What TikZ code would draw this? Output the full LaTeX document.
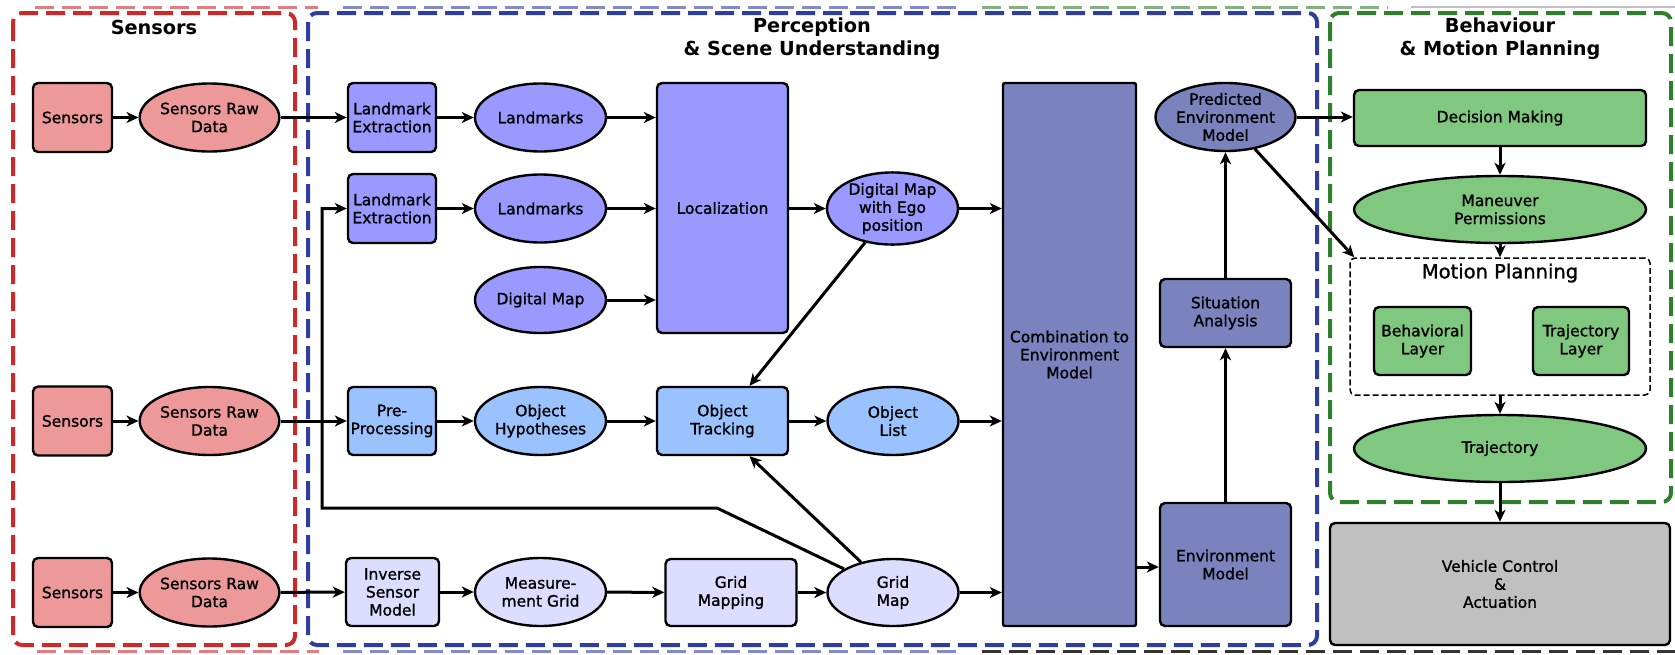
\documentclass[tikz,border=0pt]{standalone}
\usepackage{fontspec}
\setmainfont{DejaVu Sans}
\newfontfamily\nodefam[FakeBold=1.2]{DejaVu Sans}
\usetikzlibrary{shapes.geometric,arrows.meta}
\definecolor{sensfill}{HTML}{EE9999}
\definecolor{lmfill}{HTML}{9999FF}
\definecolor{objfill}{HTML}{99C2FF}
\definecolor{gridfill}{HTML}{DDDDFF}
\definecolor{envfill}{HTML}{7B83BF}
\definecolor{grnfill}{HTML}{80C780}
\definecolor{grayfill}{HTML}{C0C0C0}
\definecolor{redline}{HTML}{CC2A2A}
\definecolor{blueline}{HTML}{2F3E9E}
\definecolor{greenline}{HTML}{2F7F2F}
\begin{document}
\begin{tikzpicture}[x=1pt,y=-1pt,
  base/.style={draw=black,line width=2.4pt,align=center,inner sep=0pt,font=\nodefam\fontsize{15.5}{18}\selectfont},
  box/.style={base,rectangle,rounded corners=5pt},
  ell/.style={base,ellipse,minimum width=131pt,minimum height=68pt},
  arr/.style={line width=3pt,-{Stealth[length=12pt,width=11pt,inset=3.5pt]}},
  group/.style={line width=4pt,dash pattern=on 19pt off 8pt,rounded corners=9pt},
  ghost/.style={line width=3pt,dash pattern=on 19pt off 8pt,opacity=0.6},
  title/.style={font=\fontsize{19.3}{23}\selectfont\bfseries,align=center,inner sep=0pt}
]
\useasboundingbox (0,0) rectangle (1675,654);
% ghost lines
\draw[ghost,redline] (35,7) -- (318,7);
\draw[ghost,redline] (37,651) -- (319,651);
\draw[ghost,blueline] (343,7) -- (958,7);
\draw[ghost,blueline] (343,651) -- (961,651);
\draw[ghost,greenline] (982,7) -- (1388,7);
\draw[line width=2pt,gray!70,opacity=0.7] (1411,7) -- (1675,7);
\draw[ghost,black,opacity=0.8] (982,651) -- (1675,651);
% groups
\draw[group,redline] (13,13) rectangle (295,645);
\draw[group,blueline] (308,13) rectangle (1317,645);
\draw[group,greenline] (1330,13) rectangle (1671,502);
\node[title] (tsens) at (154,27) {Sensors};
\node[title] (tperc) at (812,38.5) {Perception\\\& Scene Understanding};
\node[title] (tbeh) at (1500,38.5) {Behaviour\\\& Motion Planning};
% sensors
\node[box,fill=sensfill,minimum width=79pt,minimum height=69pt] (s1) at (72.5,117.5) {Sensors};
\node[ell,fill=sensfill] (r1) at (209.5,117.5) {Sensors Raw\\Data};
\node[box,fill=sensfill,minimum width=79pt,minimum height=69pt] (s2) at (72.5,421) {Sensors};
\node[ell,fill=sensfill] (r2) at (209.5,421) {Sensors Raw\\Data};
\node[box,fill=sensfill,minimum width=79pt,minimum height=69pt] (s3) at (72.5,592.5) {Sensors};
\node[ell,fill=sensfill] (r3) at (209.5,592.5) {Sensors Raw\\Data};
% perception
\node[box,fill=lmfill,minimum width=88pt,minimum height=69pt] (le1) at (392,117.5) {Landmark\\Extraction};
\node[ell,fill=lmfill] (lm1) at (540.5,117.5) {Landmarks};
\node[box,fill=lmfill,minimum width=88pt,minimum height=69pt] (le2) at (392,208.5) {Landmark\\Extraction};
\node[ell,fill=lmfill] (lm2) at (540.5,208.5) {Landmarks};
\node[ell,fill=lmfill,minimum height=66pt] (dm) at (540.5,300) {Digital Map};
\node[box,fill=lmfill,minimum width=131pt,minimum height=250pt] (loc) at (722.5,208) {Localization};
\node[ell,fill=lmfill,minimum height=69pt] (dme) at (892.5,208.5) {Digital Map\\with Ego\\position};
\node[box,fill=objfill,minimum width=88pt,minimum height=68pt] (pp) at (392,421) {Pre-\\Processing};
\node[ell,fill=objfill] (oh) at (540.5,421) {Object\\Hypotheses};
\node[box,fill=objfill,minimum width=131pt,minimum height=68pt] (ot) at (722.5,421) {Object\\Tracking};
\node[ell,fill=objfill] (ol) at (893,421) {Object\\List};
\node[box,fill=gridfill,minimum width=93pt,minimum height=68pt] (ism) at (392.5,592) {Inverse\\Sensor\\Model};
\node[ell,fill=gridfill] (mg) at (540.5,592) {Measure-\\ment Grid};
\node[box,fill=gridfill,minimum width=131pt,minimum height=67pt] (gmap) at (731,592.5) {Grid\\Mapping};
\node[ell,fill=gridfill,minimum height=67pt] (gm) at (893,592.5) {Grid\\Map};
\node[box,rounded corners=2pt,fill=envfill,minimum width=133pt,minimum height=543pt] (comb) at (1069.5,354.5) {Combination to\\Environment\\Model};
\node[ell,fill=envfill] (pem) at (1225.5,117) {Predicted\\Environment\\Model};
\node[box,fill=envfill,minimum width=131pt,minimum height=68pt] (sa) at (1225.5,313) {Situation\\Analysis};
\node[box,fill=envfill,minimum width=131pt,minimum height=123pt] (em) at (1225.5,564.5) {Environment\\Model};
% behaviour
\node[box,fill=grnfill,minimum width=292pt,minimum height=56pt] (dmk) at (1500,118) {Decision Making};
\node[ell,fill=grnfill,minimum width=292pt,minimum height=67pt] (mperm) at (1500,209.5) {Maneuver\\Permissions};
\node[draw=black,line width=1.5pt,dash pattern=on 6pt off 3pt,rounded corners=5pt,minimum width=300pt,minimum height=137pt,inner sep=0pt] (mp) at (1500,326.5) {};
\node[inner sep=0pt,font=\nodefam\fontsize{19.5}{22}\selectfont] (mpt) at (1500,273) {Motion Planning};
\node[box,fill=grnfill,minimum width=97pt,minimum height=68pt] (bl) at (1422.5,341) {Behavioral\\Layer};
\node[box,fill=grnfill,minimum width=96pt,minimum height=68pt] (tl) at (1581,341) {Trajectory\\Layer};
\node[ell,fill=grnfill,minimum width=292pt,minimum height=67pt] (traj) at (1500,448.5) {Trajectory};
\node[box,fill=grayfill,minimum width=340pt,minimum height=122pt] (vc) at (1500,584) {Vehicle Control\\\&\\Actuation};
% coordinates
\coordinate (k1) at (717,508);
\coordinate (k2) at (322,508);
% connectors
\draw[arr] (s1) -- (r1);
\draw[arr] (s2) -- (r2);
\draw[arr] (s3) -- (r3);
\draw[arr] (r1) -- (le1);
\draw[arr] (r2) -- (pp);
\draw[arr] (r3) -- (ism);
\draw[arr] (le1) -- (lm1);
\draw[arr] (le2) -- (lm2);
\draw[arr] (lm1.east) -- (lm1.east -| loc.west);
\draw[arr] (lm2.east) -- (lm2.east -| loc.west);
\draw[arr] (dm.east) -- (dm.east -| loc.west);
\draw[arr] (loc.east |- dme.west) -- (dme.west);
\draw[arr] (dme.east) -- (dme.east -| comb.west);
\draw[arr] (dme) -- ([xshift=27pt]ot.north);
\draw[arr] (gm) -- ([xshift=27pt]ot.south);
\draw[arr] (gm) -- (k1) -- (k2) |- (le2.west);
\draw[arr] (pp) -- (oh);
\draw[arr] (oh) -- (ot);
\draw[arr] (ot) -- (ol);
\draw[arr] (ol.east) -- (ol.east -| comb.west);
\draw[arr] (ism) -- (mg);
\draw[arr] (mg) -- (gmap);
\draw[arr] (gmap) -- (gm);
\draw[arr] (gm.east) -- (gm.east -| comb.west);
\draw[arr] ([yshift=-2.5pt]em.west -| comb.east) -- ([yshift=-2.5pt]em.west);
\draw[arr] (em) -- (sa);
\draw[arr] (sa) -- (pem);
\draw[arr] (pem.east) -- (pem.east -| dmk.west);
\draw[arr] (pem) -- ([xshift=5pt]mp.north west);
\draw[arr] (dmk) -- (mperm);
\draw[arr] (mperm) -- (mp);
\draw[arr] (mp) -- (traj);
\draw[arr] (traj) -- (vc);
\end{tikzpicture}
\end{document}
